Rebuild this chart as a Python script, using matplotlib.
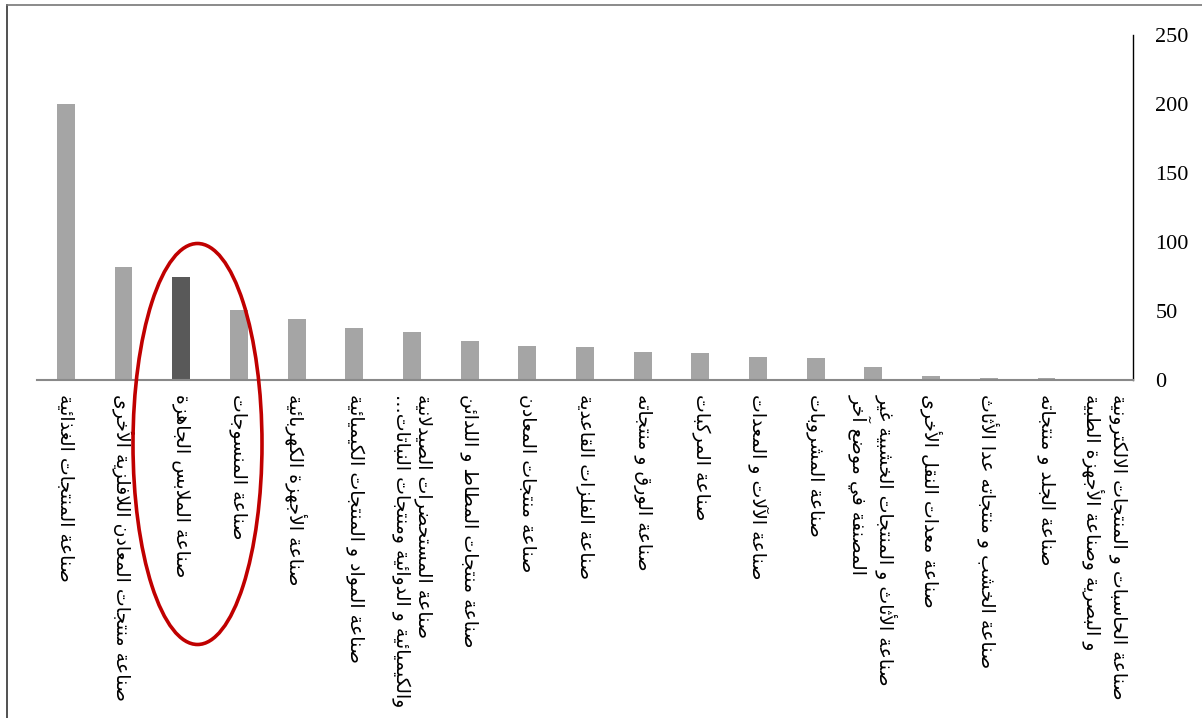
import matplotlib
matplotlib.use('Agg')
import matplotlib.pyplot as plt
from matplotlib.patches import Ellipse
from matplotlib.lines import Line2D

# أسماء الصناعات (سطر ثاني بعد \n)
categories = [
    'صناعة المنتجات الغذائية',
    'صناعة منتجات المعادن اللافلزية الأخرى',
    'صناعة الملابس الجاهزة',
    'صناعة المنسوجات',
    'صناعة الأجهزة الكهربائية',
    'صناعة المواد و المنتجات الكيميائية',
    'صناعة المستحضرات الصيدلانية\nوالكيميائية و الدوائية ومنتجات النباتات…',
    'صناعة منتجات المطاط و اللدائن',
    'صناعة منتجات المعادن',
    'صناعة الفلزات القاعدية',
    'صناعة الورق و منتجاته',
    'صناعة المركبات',
    'صناعة الآلات و المعدات',
    'صناعة المشروبات',
    'صناعة الأثاث و المنتجات الخشبية غير\nالمصنفة في موضع آخر',
    'صناعة معدات النقل الأخرى',
    'صناعة الخشب و منتجاته عدا الأثاث',
    'صناعة الجلد و منتجاته',
    'صناعة الحاسبات و المنتجات الالكترونية\nو البصرية وصناعة الأجهزة الطبية',
]
values = [200, 82, 75, 51, 44, 38, 35, 28, 25, 24, 20, 19.5, 16.5, 16, 9.5, 3, 1.5, 1.5, 0.3]
highlight = 'صناعة الملابس الجاهزة'
yticks = [0, 50, 100, 150, 200, 250]

# جدول أشكال الحروف: (الشكل المنفصل, عدد الأشكال)
FORMS = {
    'ء': (0xFE80, 1), 'آ': (0xFE81, 2), 'أ': (0xFE83, 2), 'ؤ': (0xFE85, 2),
    'إ': (0xFE87, 2), 'ئ': (0xFE89, 4), 'ا': (0xFE8D, 2), 'ب': (0xFE8F, 4),
    'ة': (0xFE93, 2), 'ت': (0xFE95, 4), 'ث': (0xFE99, 4), 'ج': (0xFE9D, 4),
    'ح': (0xFEA1, 4), 'خ': (0xFEA5, 4), 'د': (0xFEA9, 2), 'ذ': (0xFEAB, 2),
    'ر': (0xFEAD, 2), 'ز': (0xFEAF, 2), 'س': (0xFEB1, 4), 'ش': (0xFEB5, 4),
    'ص': (0xFEB9, 4), 'ض': (0xFEBD, 4), 'ط': (0xFEC1, 4), 'ظ': (0xFEC5, 4),
    'ع': (0xFEC9, 4), 'غ': (0xFECD, 4), 'ف': (0xFED1, 4), 'ق': (0xFED5, 4),
    'ك': (0xFED9, 4), 'ل': (0xFEDD, 4), 'م': (0xFEE1, 4), 'ن': (0xFEE5, 4),
    'ه': (0xFEE9, 4), 'و': (0xFEED, 2), 'ى': (0xFEEF, 2), 'ي': (0xFEF1, 4),
}
LAMALEF = {'آ': 0xFEF5, 'أ': 0xFEF7, 'إ': 0xFEF9, 'ا': 0xFEFB}


def shape_line(text):
    chars = []
    i = 0
    while i < len(text):
        if text[i] == 'ل' and i + 1 < len(text) and text[i + 1] in LAMALEF:
            chars.append(('LA', LAMALEF[text[i + 1]]))
            i += 2
        else:
            chars.append((text[i], None))
            i += 1
    out = []
    for k, (c, lig) in enumerate(chars):
        prev = chars[k - 1][0] if k > 0 else None
        nxt = chars[k + 1][0] if k + 1 < len(chars) else None
        joins_prev = prev in FORMS and FORMS[prev][1] == 4
        if lig:
            out.append(chr(lig + (1 if joins_prev else 0)))
            continue
        if c not in FORMS:
            out.append(c)
            continue
        base, n = FORMS[c]
        if n == 1:
            out.append(chr(base))
            continue
        joins_next = n == 4 and (nxt == 'LA' or (nxt in FORMS and FORMS[nxt][1] >= 2))
        if joins_prev and joins_next:
            out.append(chr(base + 3))
        elif joins_prev:
            out.append(chr(base + 1))
        elif joins_next:
            out.append(chr(base + 2))
        else:
            out.append(chr(base))
    return ''.join(reversed(out))


def shape(text):
    return '\n'.join(shape_line(l) for l in text.split('\n'))


fig = plt.figure(figsize=(12.02, 7.18), dpi=100)
ax = fig.add_axes([37 / 1202, 1 - 380 / 718, (1133 - 37) / 1202, (380 - 35) / 718])

x = list(range(len(categories)))
colors = ['#595959' if c == highlight else '#A5A5A5' for c in categories]
ax.bar(x, values, width=0.31, color=colors, zorder=2)

ax.set_xlim(-0.5, len(categories) - 0.5)
ax.set_ylim(0, 250)
ax.set_yticks(yticks)
ax.yaxis.tick_right()
ax.tick_params(axis='y', length=0, pad=16, labelsize=16)
for lab in ax.get_yticklabels():
    lab.set_fontfamily('Liberation Serif')

ax.set_xticks(x)
ax.set_xticklabels([shape(c) for c in categories], rotation=-90, ha='center', va='top',
                   multialignment='left', fontfamily='DejaVu Sans', fontsize=13.6)
ax.tick_params(axis='x', length=0, pad=10)

ax.spines['left'].set_visible(False)
ax.spines['top'].set_visible(False)
ax.spines['bottom'].set_color('#898989')
ax.spines['bottom'].set_linewidth(1.5)
ax.spines['right'].set_color('black')
ax.spines['right'].set_linewidth(1)

# الدائرة الحمراء حول صناعة الملابس
fig.add_artist(Ellipse((197.5 / 1202, 1 - 444 / 718), 129 / 1202, 401 / 718,
                       transform=fig.transFigure, fill=False, edgecolor='#C00000', linewidth=2.6))

# إطار الصورة
fig.add_artist(Line2D([7 / 1202, 7 / 1202], [0, 1 - 5 / 718], transform=fig.transFigure,
                      color='#333333', linewidth=1.2))
fig.add_artist(Line2D([7 / 1202, 1], [1 - 5 / 718, 1 - 5 / 718], transform=fig.transFigure,
                      color='#777777', linewidth=1.2))

fig.savefig('out.png', dpi=100)
